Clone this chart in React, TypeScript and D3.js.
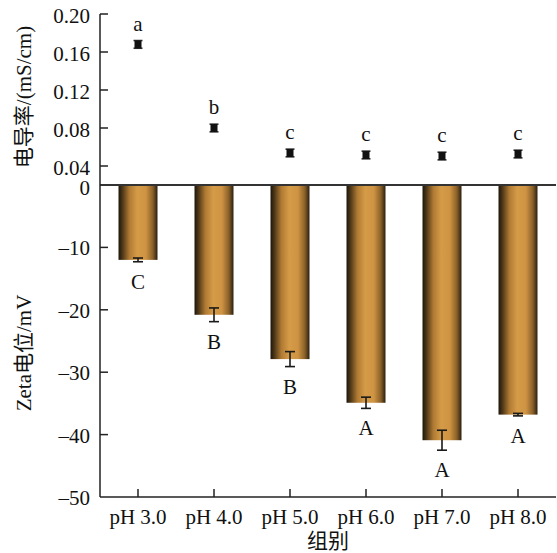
import React from 'react';
import * as d3 from 'd3';

const groups = ['pH 3.0', 'pH 4.0', 'pH 5.0', 'pH 6.0', 'pH 7.0', 'pH 8.0'];
const zeta = [-12.0, -20.8, -27.9, -34.9, -40.9, -36.8];
const zetaErr = [0.3, 1.1, 1.2, 0.9, 1.6, 0.2];
const zetaLetters = ['C', 'B', 'B', 'A', 'A', 'A'];
const cond = [0.168, 0.08, 0.0537, 0.0516, 0.0505, 0.0526];
const condErr = [0.003, 0.003, 0.003, 0.003, 0.003, 0.003];
const condLetters = ['a', 'b', 'c', 'c', 'c', 'c'];
const condTicks = [0.04, 0.08, 0.12, 0.16, 0.2];
const zetaTicks = [0, -10, -20, -30, -40, -50];

const W = 557;
const H = 553;
const font = '"Liberation Serif", "Times New Roman", "Noto Sans CJK SC", serif';

export default function App() {
  const x = d3.scaleBand().domain(groups).range([100, 556]).paddingInner(0.487).paddingOuter(0.2435);
  const yZ = d3.scaleLinear().domain([-50, 0]).range([497, 185]);
  const yC = d3.scaleLinear().domain([0.04, 0.2]).range([166, 14]);
  const bw = x.bandwidth();
  const axisColor = '#222';

  return (
    <svg width={W} height={H} style={{ position: 'absolute', left: 0, top: 0, background: '#fff' }} fontFamily={font}>
      <defs>
        <linearGradient id="barGrad" x1="0" x2="1" y1="0" y2="0">
          <stop offset="0%" stopColor="#1c160b" />
          <stop offset="10%" stopColor="#4d3618" />
          <stop offset="28%" stopColor="#b07a33" />
          <stop offset="48%" stopColor="#d59b47" />
          <stop offset="70%" stopColor="#cf9443" />
          <stop offset="88%" stopColor="#8a6029" />
          <stop offset="100%" stopColor="#2a1e0e" />
        </linearGradient>
      </defs>

      {/* bars */}
      {groups.map((g, i) => (
        <rect key={'bar' + g} x={x(g)} y={yZ(0)} width={bw} height={yZ(zeta[i]) - yZ(0)} fill="url(#barGrad)" />
      ))}

      {/* zeta error bars + letters */}
      {groups.map((g, i) => {
        const cx = (x(g) as number) + bw / 2;
        const lo = yZ(zeta[i] - zetaErr[i]);
        const hi = yZ(zeta[i] + zetaErr[i]);
        return (
          <g key={'ze' + g} stroke="#1a1a1a" strokeWidth={1.6}>
            <line x1={cx} x2={cx} y1={hi} y2={lo} />
            <line x1={cx - 5} x2={cx + 5} y1={hi} y2={hi} />
            <line x1={cx - 5} x2={cx + 5} y1={lo} y2={lo} />
            <text x={cx} y={lo + 27} textAnchor="middle" fontSize={21} fill="#111" stroke="none">
              {zetaLetters[i]}
            </text>
          </g>
        );
      })}

      {/* conductivity points */}
      {groups.map((g, i) => {
        const cx = (x(g) as number) + bw / 2;
        const cy = yC(cond[i]);
        const lo = yC(cond[i] - condErr[i]);
        const hi = yC(cond[i] + condErr[i]);
        return (
          <g key={'c' + g}>
            <line x1={cx} x2={cx} y1={hi - 1} y2={lo + 1} stroke="#333" strokeWidth={1.4} />
            <line x1={cx - 4.5} x2={cx + 4.5} y1={hi - 1} y2={hi - 1} stroke="#333" strokeWidth={1.6} />
            <line x1={cx - 4.5} x2={cx + 4.5} y1={lo + 1} y2={lo + 1} stroke="#333" strokeWidth={1.6} />
            <rect x={cx - 3.5} y={cy - 4} width={7} height={8} fill="#111" />
            <text x={cx} y={hi - 11} textAnchor="middle" fontSize={21} fill="#111">
              {condLetters[i]}
            </text>
          </g>
        );
      })}

      {/* zero line */}
      <line x1={100} x2={556} y1={yZ(0)} y2={yZ(0)} stroke="#333" strokeWidth={2} />
      {/* left axis */}
      <line x1={100} x2={100} y1={yC(0.2)} y2={yZ(-50)} stroke={axisColor} strokeWidth={1.5} />
      {/* bottom axis */}
      <line x1={100} x2={556} y1={yZ(-50)} y2={yZ(-50)} stroke={axisColor} strokeWidth={1.5} />

      {condTicks.map((t) => (
        <g key={'ct' + t}>
          <line x1={100} x2={108} y1={yC(t)} y2={yC(t)} stroke={axisColor} strokeWidth={1.5} />
          <text x={90} y={yC(t) + 9} textAnchor="end" fontSize={21} fill="#111">
            {t.toFixed(2)}
          </text>
        </g>
      ))}
      {zetaTicks.map((t) => (
        <g key={'zt' + t}>
          {t !== 0 && t !== -50 && (
            <line x1={100} x2={108} y1={yZ(t)} y2={yZ(t)} stroke={axisColor} strokeWidth={1.5} />
          )}
          <text x={90} y={yZ(t) + (t === 0 ? 10 : 8)} textAnchor="end" fontSize={21} fill="#111">
            {t < 0 ? '\u2013' + Math.abs(t) : String(t)}
          </text>
        </g>
      ))}
      {groups.map((g) => {
        const cx = (x(g) as number) + bw / 2;
        return (
          <g key={'xt' + g}>
            <line x1={cx} x2={cx} y1={yZ(-50)} y2={yZ(-50) - 8} stroke={axisColor} strokeWidth={1.5} />
            <text x={cx} y={yZ(-50) + 27} textAnchor="middle" fontSize={21} fill="#111">
              {g}
            </text>
          </g>
        );
      })}

      {/* axis titles */}
      <text transform="translate(31,97) rotate(-90)" textAnchor="middle" fontSize={21} fill="#111">
        电导率/(mS/cm)
      </text>
      <text transform="translate(31,353) rotate(-90)" textAnchor="middle" fontSize={21} fill="#111">
        Zeta电位/mV
      </text>
      <text x={328} y={548} textAnchor="middle" fontSize={21} fill="#111">
        组别
      </text>
    </svg>
  );
}
